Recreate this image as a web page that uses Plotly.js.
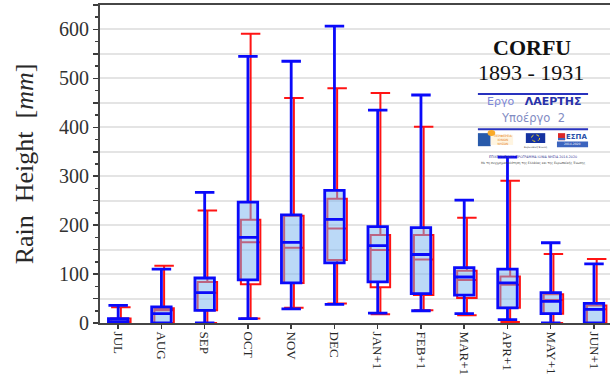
<!DOCTYPE html>
<html><head><meta charset="utf-8">
<script src="https://cdn.plot.ly/plotly-3.0.1.min.js"></script>
<style>html,body{margin:0;padding:0;background:#fff}#chart{width:610px;height:390px}</style>
</head><body><div id="chart"></div>
<script>
const months = ['JUL','AUG','SEP','OCT','NOV','DEC','JAN+1','FEB+1','MAR+1','APR+1','MAY+1','JUN+1'];

// Blue series
const blueLower  = [0, 0, 0, 9, 29, 38, 20, 25, 19, 7, 0, 0];
const blueQ1     = [0, 0, 26, 88, 82, 123, 84, 60, 57, 31, 19, 0];
const blueMedian = [3, 19, 62, 175, 165, 212, 158, 140, 94, 82, 44, 28];
const blueQ3     = [9, 33, 92, 247, 221, 271, 197, 195, 113, 110, 62, 40];
const blueUpper  = [36, 110, 267, 545, 535, 607, 435, 466, 251, 339, 164, 121];

// Red series
const redLower  = [0, 0, 0, 9, 31, 40, 18, 26, 16, 2, 0, 0];
const redQ1     = [0, 0, 26, 79, 82, 129, 73, 57, 51, 31, 19, 0];
const redMedian = [3, 26, 62, 165, 154, 193, 149, 130, 88, 78, 47, 28];
const redQ3     = [9, 30, 84, 211, 219, 254, 180, 180, 107, 95, 59, 36];
const redUpper  = [32, 117, 230, 591, 460, 480, 470, 401, 215, 291, 141, 131];

const yTickVals = [0,50,100,150,200,250,300,350,400,450,500,550,600,650];
const yTickText = ['0','','100','','200','','300','','400','','500','','600',''];

const red = {
  type:'box', name:'red', x: months, xaxis:'x', yaxis:'y',
  q1: redQ1, median: redMedian, q3: redQ3, lowerfence: redLower, upperfence: redUpper,
  boxpoints:false, whiskerwidth:1,
  line:{color:'rgb(255,20,20)', width:2}, fillcolor:'rgba(0,0,0,0)', hoverinfo:'skip'
};
const blue = {
  type:'box', name:'blue', x: months, xaxis:'x2', yaxis:'y',
  q1: blueQ1, median: blueMedian, q3: blueQ3, lowerfence: blueLower, upperfence: blueUpper,
  boxpoints:false, whiskerwidth:1,
  line:{color:'rgb(10,10,250)', width:2.8}, fillcolor:'rgba(120,180,240,0.5)', hoverinfo:'skip'
};

const serif = 'Liberation Serif, Times New Roman, serif';
const sans = 'DejaVu Sans, sans-serif';
const shift = 0.062;
const xr = [-0.42, 11.37];

function ann(x, y, text, font, extra) {
  return Object.assign({xref:'paper', yref:'paper', x:x, y:y, text:text, showarrow:false,
    xanchor:'center', yanchor:'middle', font:font}, extra || {});
}
function rect(x0, x1, y0, y1, fill, extra) {
  return Object.assign({type:'rect', xref:'paper', yref:'paper', x0:x0, x1:x1, y0:y0, y1:y1,
    fillcolor:fill, line:{width:0}}, extra || {});
}

const layout = {
  width:610, height:390,
  margin:{l:100, r:0, t:5, b:67},
  paper_bgcolor:'#fff', plot_bgcolor:'#fff',
  showlegend:false, boxmode:'overlay', boxgap:0.55, boxgroupgap:0,
  xaxis:{type:'category', categoryarray:months, range:[xr[0]-shift, xr[1]-shift],
    showticklabels:false, ticks:'', showgrid:false, zeroline:false,
    showline:true, mirror:true, linecolor:'rgb(70,70,70)', linewidth:2},
  xaxis2:{type:'category', categoryarray:months, overlaying:'x', anchor:'y', range:xr,
    showgrid:false, zeroline:false, showline:false,
    ticks:'outside', ticklen:5, tickwidth:1.5, tickcolor:'rgb(60,60,60)',
    tickangle:90, tickfont:{family:serif, size:13, color:'rgb(40,40,40)'}},
  yaxis:{range:[0,650], tickvals:yTickVals, ticktext:yTickText,
    ticks:'outside', ticklen:5, tickwidth:1.5, tickcolor:'rgb(60,60,60)',
    minor:{dtick:25, ticks:'outside', ticklen:3, tickcolor:'rgb(60,60,60)', showgrid:false},
    showgrid:true, gridcolor:'rgb(228,228,228)', gridwidth:2, zeroline:false,
    showline:true, linecolor:'rgb(70,70,70)', linewidth:2,
    tickfont:{family:serif, size:20, color:'rgb(50,50,50)'},
    title:{text:'Rain  Height  [<i>mm</i>]', font:{family:serif, size:26, color:'rgb(40,40,40)'}, standoff:18}},
  annotations:[
    ann(0.848, 0.867, '<b>CORFU</b>', {family:serif, size:22, color:'#111'}),
    ann(0.845, 0.787, '1893 - 1931', {family:serif, size:22, color:'#111'}),
    ann(0.851, 0.696, '<span style="color:rgb(125,135,215)">Εργο</span>   <b>ΛΑΕΡΤΗΣ</b>', {family:sans, size:11, color:'rgb(40,50,170)'}),
    ann(0.849, 0.644, 'Υποέργο  2', {family:sans, size:11.5, color:'rgb(130,140,195)'}),
    ann(0.791, 0.576, 'ΠΕΡΙΦΕΡΕΙΑ<br>ΙΟΝΙΩΝ<br>ΝΗΣΩΝ', {family:sans, size:3, color:'rgb(230,130,30)'}),
    ann(0.854, 0.551, 'Ευρωπαϊκή Ένωση', {family:sans, size:2.5, color:'rgb(60,60,60)'}),
    ann(0.935, 0.585, '<b>ΕΣΠΑ</b>', {family:sans, size:7, color:'rgb(40,80,170)'}),
    ann(0.926, 0.562, '2014-2020', {family:sans, size:3, color:'#fff'}),
    ann(0.849, 0.522, 'ΕΠΙΧΕΙΡΗΣΙΑΚΟ ΠΡΟΓΡΑΜΜΑ ΙΟΝΙΑ ΝΗΣΙΑ 2014-2020', {family:sans, size:3.3, color:'rgb(60,60,150)'}),
    ann(0.849, 0.504, 'Με τη συγχρηματοδότηση της Ελλάδας και της Ευρωπαϊκής Ένωσης', {family:sans, size:3, color:'rgb(60,60,60)'})
  ],
  shapes:[
    {type:'line', xref:'paper', yref:'paper', x0:0.741, x1:0.957, y0:0.72, y1:0.72, line:{color:'rgb(40,50,190)', width:2}},
    {type:'line', xref:'paper', yref:'paper', x0:0.741, x1:0.957, y0:0.609, y1:0.609, line:{color:'rgb(40,50,190)', width:2}},
    rect(0.741, 0.766, 0.556, 0.597, 'rgb(40,90,170)'),
    rect(0.766, 0.81, 0.56, 0.592, 'rgb(255,245,225)'),
    {type:'circle', xref:'paper', yref:'paper', x0:0.76, x1:0.775, y0:0.588, y1:0.607, fillcolor:'rgb(250,170,40)', line:{width:0}},
    rect(0.835, 0.873, 0.566, 0.597, 'rgb(20,50,160)'),
    {type:'circle', xref:'paper', yref:'paper', x0:0.846, x1:0.862, y0:0.571, y1:0.592, fillcolor:'rgba(0,0,0,0)', line:{color:'rgb(250,220,30)', width:1, dash:'dot'}},
    rect(0.896, 0.957, 0.553, 0.571, 'rgb(60,100,190)'),
    rect(0.898, 0.912, 0.575, 0.597, 'rgb(220,40,40)'),
    rect(0.898, 0.912, 0.575, 0.582, 'rgb(60,100,190)')
  ]
};

Plotly.newPlot('chart', [red, blue], layout, {staticPlot:true, displayModeBar:false});
</script></body></html>
